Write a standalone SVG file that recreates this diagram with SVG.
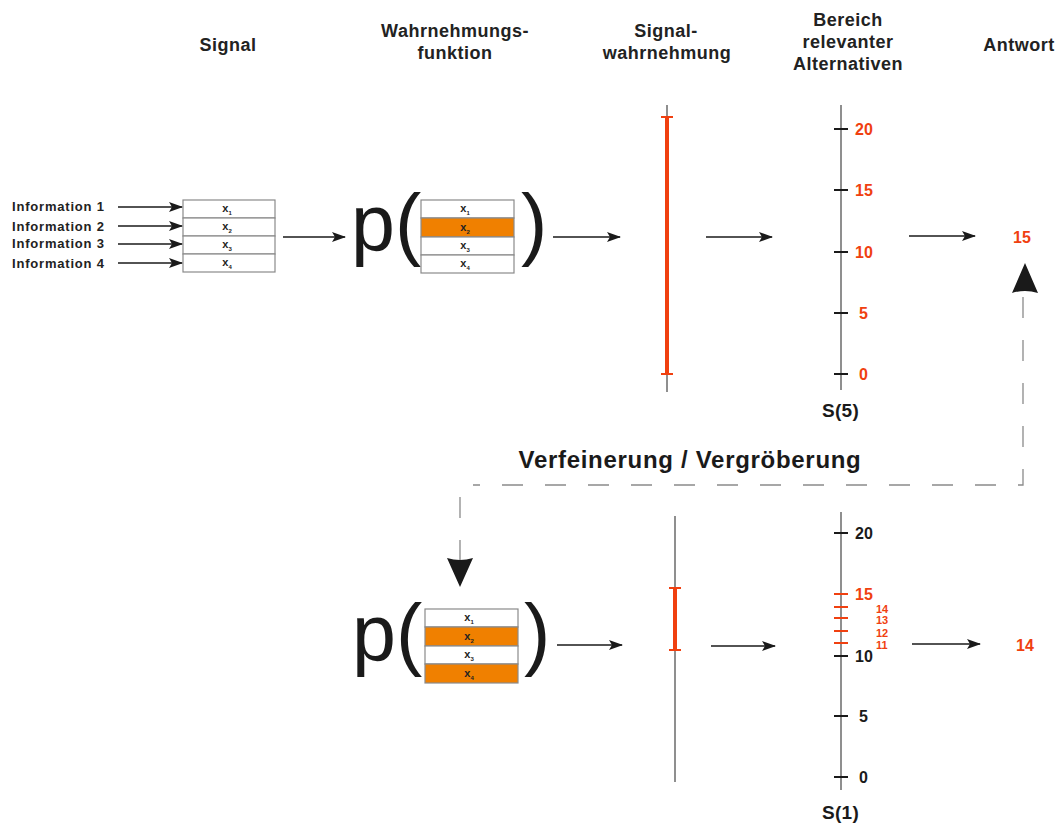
<svg xmlns="http://www.w3.org/2000/svg" width="1062" height="825" viewBox="0 0 1062 825">
<style>
.hd{font-family:"Liberation Sans",Arial,sans-serif;font-weight:bold;font-size:18px;letter-spacing:0.5px;fill:#222;text-anchor:middle}
.inf{font-family:"Liberation Sans",Arial,sans-serif;font-weight:bold;font-size:13px;letter-spacing:0.8px;fill:#222}
.xv{font-family:"Liberation Sans",Arial,sans-serif;font-weight:bold;font-size:11px;fill:#222;text-anchor:middle}
.xs{font-size:6px}
.big{font-family:"Liberation Sans",Arial,sans-serif;font-size:79px;fill:#1a1a1a}
.cell{fill:#fff;stroke:#8a8a8a;stroke-width:1.2}
.on{fill:#f08000;stroke:#8a8a8a;stroke-width:1.2}
.arr{stroke:#1a1a1a;stroke-width:1.3;fill:none;marker-end:url(#ah)}
.ax{stroke:#6a6a6a;stroke-width:1.5}
.tk{stroke:#1a1a1a;stroke-width:2}
.rtk{stroke:#f04010;stroke-width:2}
.rl{font-family:"Liberation Sans",Arial,sans-serif;font-weight:bold;font-size:16px;fill:#f04010}
.bl{font-family:"Liberation Sans",Arial,sans-serif;font-weight:bold;font-size:16px;fill:#1a1a1a}
.sm{font-family:"Liberation Sans",Arial,sans-serif;font-weight:bold;font-size:11px;fill:#f04010}
.sl{font-family:"Liberation Sans",Arial,sans-serif;font-weight:bold;font-size:19px;letter-spacing:0.3px;fill:#1a1a1a}
.red{stroke:#f04010;stroke-width:4}
.redc{stroke:#f04010;stroke-width:2}
.dash{stroke:#8a8a8a;stroke-width:1.3;fill:none;stroke-dasharray:21 22}
</style>
<defs>
<marker id="ah" markerWidth="14" markerHeight="10" refX="13" refY="5" orient="auto" markerUnits="userSpaceOnUse">
<path d="M0,0 L14,5 L0,10 L3,5 Z" fill="#1a1a1a"/>
</marker>
</defs>

<g id="headers">
<text class="hd" x="228" y="51">Signal</text>
<text class="hd" x="455" y="37">Wahrnehmungs-</text>
<text class="hd" x="455" y="59">funktion</text>
<text class="hd" x="666" y="37">Signal-</text>
<text class="hd" x="667" y="59">wahrnehmung</text>
<text class="hd" x="848" y="26">Bereich</text>
<text class="hd" x="848" y="48">relevanter</text>
<text class="hd" x="848" y="70">Alternativen</text>
<text class="hd" x="1019" y="51">Antwort</text>
</g>

<g id="information">
<text class="inf" x="12" y="211">Information 1</text>
<text class="inf" x="12" y="231">Information 2</text>
<text class="inf" x="12" y="248">Information 3</text>
<text class="inf" x="12" y="268">Information 4</text>
</g>

<g id="signal-box">
<rect class="cell" x="183" y="200" width="92" height="18"/>
<rect class="cell" x="183" y="218" width="92" height="18"/>
<rect class="cell" x="183" y="236" width="92" height="18"/>
<rect class="cell" x="183" y="254" width="92" height="18"/>
<text class="xv" x="227" y="212">x<tspan class="xs" dy="3">1</tspan></text>
<text class="xv" x="227" y="230">x<tspan class="xs" dy="3">2</tspan></text>
<text class="xv" x="227" y="248">x<tspan class="xs" dy="3">3</tspan></text>
<text class="xv" x="227" y="266">x<tspan class="xs" dy="3">4</tspan></text>
</g>

<g id="perception-top">
<text class="big" x="351" y="250">p(</text>
<rect class="cell" x="421" y="200" width="93" height="18"/>
<rect class="on" x="421" y="218" width="93" height="19"/>
<rect class="cell" x="421" y="237" width="93" height="18"/>
<rect class="cell" x="421" y="255" width="93" height="18"/>
<text class="xv" x="465" y="212">x<tspan class="xs" dy="3">1</tspan></text>
<text class="xv" x="465" y="231">x<tspan class="xs" dy="3">2</tspan></text>
<text class="xv" x="465" y="249">x<tspan class="xs" dy="3">3</tspan></text>
<text class="xv" x="465" y="267">x<tspan class="xs" dy="3">4</tspan></text>
<text class="big" x="521" y="250">)</text>
</g>

<g id="perception-bottom">
<text class="big" x="352" y="660">p(</text>
<rect class="cell" x="425" y="609" width="93" height="18"/>
<rect class="on" x="425" y="627" width="93" height="19"/>
<rect class="cell" x="425" y="646" width="93" height="18"/>
<rect class="on" x="425" y="664" width="93" height="19"/>
<text class="xv" x="469" y="621">x<tspan class="xs" dy="3">1</tspan></text>
<text class="xv" x="469" y="640">x<tspan class="xs" dy="3">2</tspan></text>
<text class="xv" x="469" y="658">x<tspan class="xs" dy="3">3</tspan></text>
<text class="xv" x="469" y="677">x<tspan class="xs" dy="3">4</tspan></text>
<text class="big" x="524" y="660">)</text>
</g>

<g id="signal-perception-top">
<line class="ax" x1="667" y1="105" x2="667" y2="392"/>
<line class="red" x1="667" y1="117" x2="667" y2="374"/>
<line class="redc" x1="661" y1="117" x2="673" y2="117"/>
<line class="redc" x1="661" y1="374" x2="673" y2="374"/>
</g>

<g id="signal-perception-bottom">
<line class="ax" x1="675" y1="516" x2="675" y2="782"/>
<line class="red" x1="675" y1="588" x2="675" y2="650"/>
<line class="redc" x1="669" y1="588" x2="681" y2="588"/>
<line class="redc" x1="669" y1="650" x2="681" y2="650"/>
</g>

<g id="scale-top">
<line class="ax" x1="841" y1="105" x2="841" y2="390"/>
<line class="tk" x1="834" y1="129" x2="848" y2="129"/>
<line class="tk" x1="834" y1="190" x2="848" y2="190"/>
<line class="tk" x1="834" y1="252" x2="848" y2="252"/>
<line class="tk" x1="834" y1="313" x2="848" y2="313"/>
<line class="tk" x1="834" y1="374" x2="848" y2="374"/>
<text class="rl" x="855" y="135">20</text>
<text class="rl" x="855" y="196">15</text>
<text class="rl" x="855" y="258">10</text>
<text class="rl" x="859" y="319">5</text>
<text class="rl" x="859" y="380">0</text>
<text class="sl" x="822" y="417">S(5)</text>
</g>

<g id="scale-bottom">
<line class="ax" x1="841" y1="512" x2="841" y2="790"/>
<line class="tk" x1="834" y1="533" x2="848" y2="533"/>
<line class="rtk" x1="834" y1="594" x2="848" y2="594"/>
<line class="rtk" x1="834" y1="607" x2="848" y2="607"/>
<line class="rtk" x1="834" y1="618" x2="848" y2="618"/>
<line class="rtk" x1="834" y1="631" x2="848" y2="631"/>
<line class="rtk" x1="834" y1="643" x2="848" y2="643"/>
<line class="tk" x1="834" y1="656" x2="848" y2="656"/>
<line class="tk" x1="834" y1="716" x2="848" y2="716"/>
<line class="tk" x1="834" y1="777" x2="848" y2="777"/>
<text class="bl" x="855" y="539">20</text>
<text class="rl" x="855" y="600">15</text>
<text class="sm" x="876" y="613">14</text>
<text class="sm" x="876" y="624">13</text>
<text class="sm" x="876" y="637">12</text>
<text class="sm" x="876" y="649">11</text>
<text class="bl" x="855" y="662">10</text>
<text class="bl" x="859" y="722">5</text>
<text class="bl" x="859" y="783">0</text>
<text class="sl" x="822" y="819">S(1)</text>
</g>

<g id="answers">
<text class="rl" x="1013" y="243">15</text>
<text class="rl" x="1016" y="651">14</text>
</g>

<g id="label-refine">
<text x="690" y="468" text-anchor="middle" style="font-family:'Liberation Sans',Arial,sans-serif;font-weight:bold;font-size:24px;letter-spacing:0.7px;fill:#1a1a1a">Verfeinerung / Vergröberung</text>
</g>

<g id="connectors">
<line class="arr" x1="118" y1="207" x2="182" y2="207"/>
<line class="arr" x1="118" y1="226" x2="182" y2="226"/>
<line class="arr" x1="118" y1="244" x2="182" y2="244"/>
<line class="arr" x1="118" y1="263" x2="182" y2="263"/>
<line class="arr" x1="283" y1="237" x2="345" y2="237"/>
<line class="arr" x1="553" y1="237" x2="620" y2="237"/>
<line class="arr" x1="706" y1="237" x2="772" y2="237"/>
<line class="arr" x1="909" y1="236" x2="975" y2="236"/>
<line class="arr" x1="557" y1="645" x2="622" y2="645"/>
<line class="arr" x1="711" y1="646" x2="775" y2="646"/>
<line class="arr" x1="912" y1="644" x2="980" y2="644"/>
<path class="dash" d="M1023,297 V485 H473"/>
<path class="dash" d="M460,497 V563"/>
<path d="M1025,263 L1038,293 Q1025,289 1012,293 Z" fill="#1a1a1a"/>
<path d="M460,587 L447,558 Q460,562 473,558 Z" fill="#1a1a1a"/>
</g>
</svg>
